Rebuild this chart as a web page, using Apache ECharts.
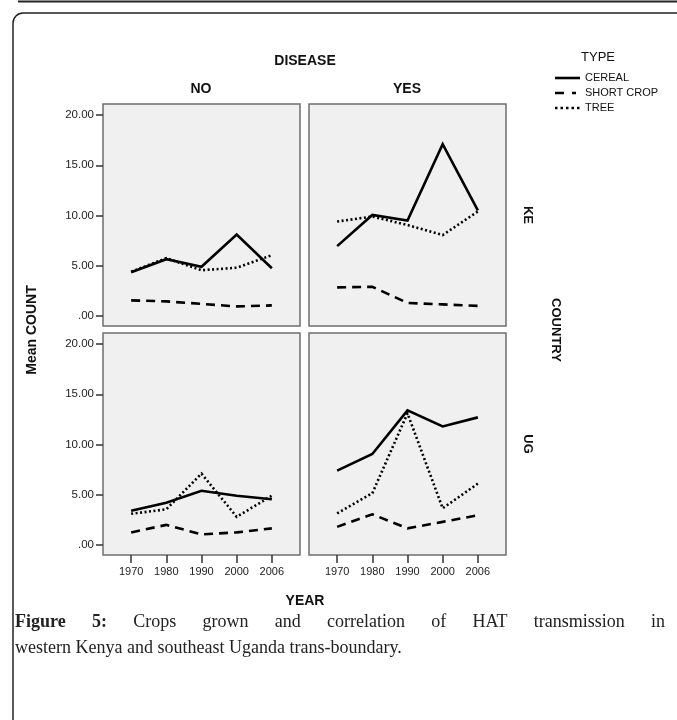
<!DOCTYPE html>
<html><head><meta charset="utf-8">
<script src="https://cdn.jsdelivr.net/npm/echarts@6/dist/echarts.min.js"></script>
<style>html,body{margin:0;padding:0;background:#fff}#c{width:677px;height:720px}</style>
</head><body><div id="c"></div>
<script>
// ---- data ----
const years = ['1970', '1980', '1990', '2000', '2006'];
const yTicks = [0, 5, 10, 15, 20];
const yTickLabels = ['.00', '5.00', '10.00', '15.00', '20.00'];
const diseaseCols = ['NO', 'YES'];
const countryRows = ['KE', 'UG'];
const types = ['CEREAL', 'SHORT CROP', 'TREE'];
const keNoCereal = [4.35, 5.65, 4.9, 8.1, 4.75];
const keNoShort = [1.55, 1.45, 1.2, 0.95, 1.05];
const keNoTree = [4.4, 5.75, 4.55, 4.8, 6.05];
const keYesCereal = [6.95, 10.05, 9.5, 17.1, 10.5];
const keYesShort = [2.85, 2.9, 1.3, 1.15, 1.0];
const keYesTree = [9.4, 9.9, 9.05, 8.05, 10.4];
const ugNoCereal = [3.4, 4.2, 5.4, 4.9, 4.55];
const ugNoShort = [1.25, 2.0, 1.05, 1.25, 1.65];
const ugNoTree = [3.1, 3.55, 7.1, 2.8, 4.9];
const ugYesCereal = [7.4, 9.05, 13.4, 11.8, 12.7];
const ugYesShort = [1.8, 3.05, 1.65, 2.3, 2.95];
const ugYesTree = [3.15, 5.15, 13.1, 3.65, 6.1];
const captionLine1 = ['Figure', '5:', 'Crops', 'grown', 'and', 'correlation', 'of', 'HAT', 'transmission', 'in'];
const captionBoldCount = 2;
const captionLine2 = 'western Kenya and southeast Uganda trans-boundary.';

// panel order: KE-NO, KE-YES, UG-NO, UG-YES
const panels = [
  [keNoCereal, keNoShort, keNoTree],
  [keYesCereal, keYesShort, keYesTree],
  [ugNoCereal, ugNoShort, ugNoTree],
  [ugYesCereal, ugYesShort, ugYesTree]
];

const SANS = '"Liberation Sans", Arial, sans-serif';
const SERIF = '"Liberation Serif", "Times New Roman", serif';
const gridPos = [
  {left: 103, top: 104}, {left: 309, top: 104},
  {left: 103, top: 333}, {left: 309, top: 333}
];
const dashes = ['solid', [9, 6], [2, 2.5]];
const legendIcons = [
  'path://M0,0M25,12M0,4.7h25v2.6h-25z',
  'path://M0,0M25,12M0,4.7h9v2.6h-9zM17,4.7h4v2.6h-4z',
  'path://M0,0M25,12M0,4.7h2.5v2.6h-2.5zM5.5,4.7h2.5v2.6h-2.5zM11,4.7h2.5v2.6h-2.5zM16.5,4.7h2.5v2.6h-2.5zM22,4.7h2.5v2.6h-2.5z'
];

const grid = gridPos.map(p => ({
  left: p.left, top: p.top, width: 197, height: 222,
  show: true, backgroundColor: '#f0f0f0', borderColor: '#6e6e6e', borderWidth: 1.5
}));
const idx = [0, 1, 2, 3];
const xAxis = idx.map(i => ({
  type: 'value', gridIndex: i, min: -0.8, max: 4.8, position: 'bottom',
  axisLine: {show: false, onZero: false}, splitLine: {show: false},
  axisTick: {show: i >= 2, customValues: [0, 1, 2, 3, 4], length: 8, lineStyle: {color: '#333', width: 1.5}},
  axisLabel: {show: i >= 2, customValues: [0, 1, 2, 3, 4], margin: 11,
    formatter: v => years[Math.round(v)], fontSize: 11, color: '#222', fontFamily: SANS}
}));
const yAxis = idx.map(i => ({
  type: 'value', gridIndex: i, min: -1, max: 21.1, position: 'left',
  axisLine: {show: false, onZero: false}, splitLine: {show: false},
  axisTick: {show: i % 2 === 0, customValues: yTicks, length: 7, lineStyle: {color: '#333', width: 1.5}},
  axisLabel: {show: i % 2 === 0, customValues: yTicks, margin: 9,
    formatter: v => yTickLabels[yTicks.indexOf(Math.round(v))], fontSize: 11.5, color: '#222', fontFamily: SANS}
}));
const series = [];
panels.forEach((pv, i) => {
  pv.forEach((vals, k) => {
    series.push({
      type: 'line', name: types[k], xAxisIndex: i, yAxisIndex: i,
      data: vals.map((v, j) => [j, v]), symbol: 'none', silent: true,
      lineStyle: {color: '#000', width: 2.6, type: dashes[k], cap: 'butt', join: 'miter'},
      itemStyle: {color: '#000'}
    });
  });
});

// caption justification
const cv = document.createElement('canvas').getContext('2d');
const capSize = 18;
function measure(t, bold) {
  cv.font = (bold ? 'bold ' : '') + capSize + 'px ' + SERIF;
  return cv.measureText(t).width;
}
const capLeft = 15, capRight = 665;
const widths = captionLine1.map((w, i) => measure(w, i < captionBoldCount));
const totalW = widths.reduce((a, b) => a + b, 0);
const gap = (capRight - capLeft - totalW) / (captionLine1.length - 1);
const captionTexts = [];
let cx = capLeft;
captionLine1.forEach((w, i) => {
  captionTexts.push({type: 'text', x: cx, y: 622, style: {
    text: w, fontFamily: SERIF, fontSize: capSize, fontWeight: i < captionBoldCount ? 'bold' : 'normal',
    fill: '#222', align: 'left', verticalAlign: 'middle'}});
  cx += widths[i] + gap;
});
captionTexts.push({type: 'text', x: capLeft, y: 648, style: {
  text: captionLine2, fontFamily: SERIF, fontSize: capSize, fill: '#222', align: 'left', verticalAlign: 'middle'}});

function label(text, x, y, size, bold, rot) {
  return {type: 'text', x: x, y: y, rotation: rot || 0, style: {
    text: text, fontFamily: SANS, fontSize: size, fontWeight: bold ? 'bold' : 'normal',
    fill: '#111', align: 'center', verticalAlign: 'middle'}};
}

const graphic = [
  {type: 'line', shape: {x1: 18, y1: 1.5, x2: 677, y2: 1.5}, style: {stroke: '#222', lineWidth: 2}},
  {type: 'rect', shape: {x: 13, y: 13, width: 700, height: 740, r: 10}, style: {fill: 'none', stroke: '#222', lineWidth: 1.5}},
  label('DISEASE', 305, 61, 14, true),
  label(diseaseCols[0], 201, 89, 14, true),
  label(diseaseCols[1], 407, 89, 14, true),
  label('TYPE', 598, 57, 13, false),
  label('Mean COUNT', 32, 330, 14, true, Math.PI / 2),
  label(countryRows[0], 528, 215, 13, true, -Math.PI / 2),
  label(countryRows[1], 528, 444, 13, true, -Math.PI / 2),
  label('COUNTRY', 556, 330, 13, true, -Math.PI / 2),
  label('YEAR', 305, 601, 14, true)
].concat(captionTexts);

const chart = echarts.init(document.getElementById('c'), null, {renderer: 'canvas'});
chart.setOption({
  animation: false,
  backgroundColor: '#fff',
  grid: grid, xAxis: xAxis, yAxis: yAxis, series: series,
  legend: {
    data: types.map((t, k) => ({name: t, icon: legendIcons[k]})),
    orient: 'vertical', left: 550, top: 67,
    itemWidth: 25, itemHeight: 12, itemGap: 3,
    selectedMode: false,
    itemStyle: {color: '#000', borderWidth: 0},
    textStyle: {fontSize: 11, color: '#111', fontFamily: SANS}
  },
  graphic: graphic
});
</script></body></html>
